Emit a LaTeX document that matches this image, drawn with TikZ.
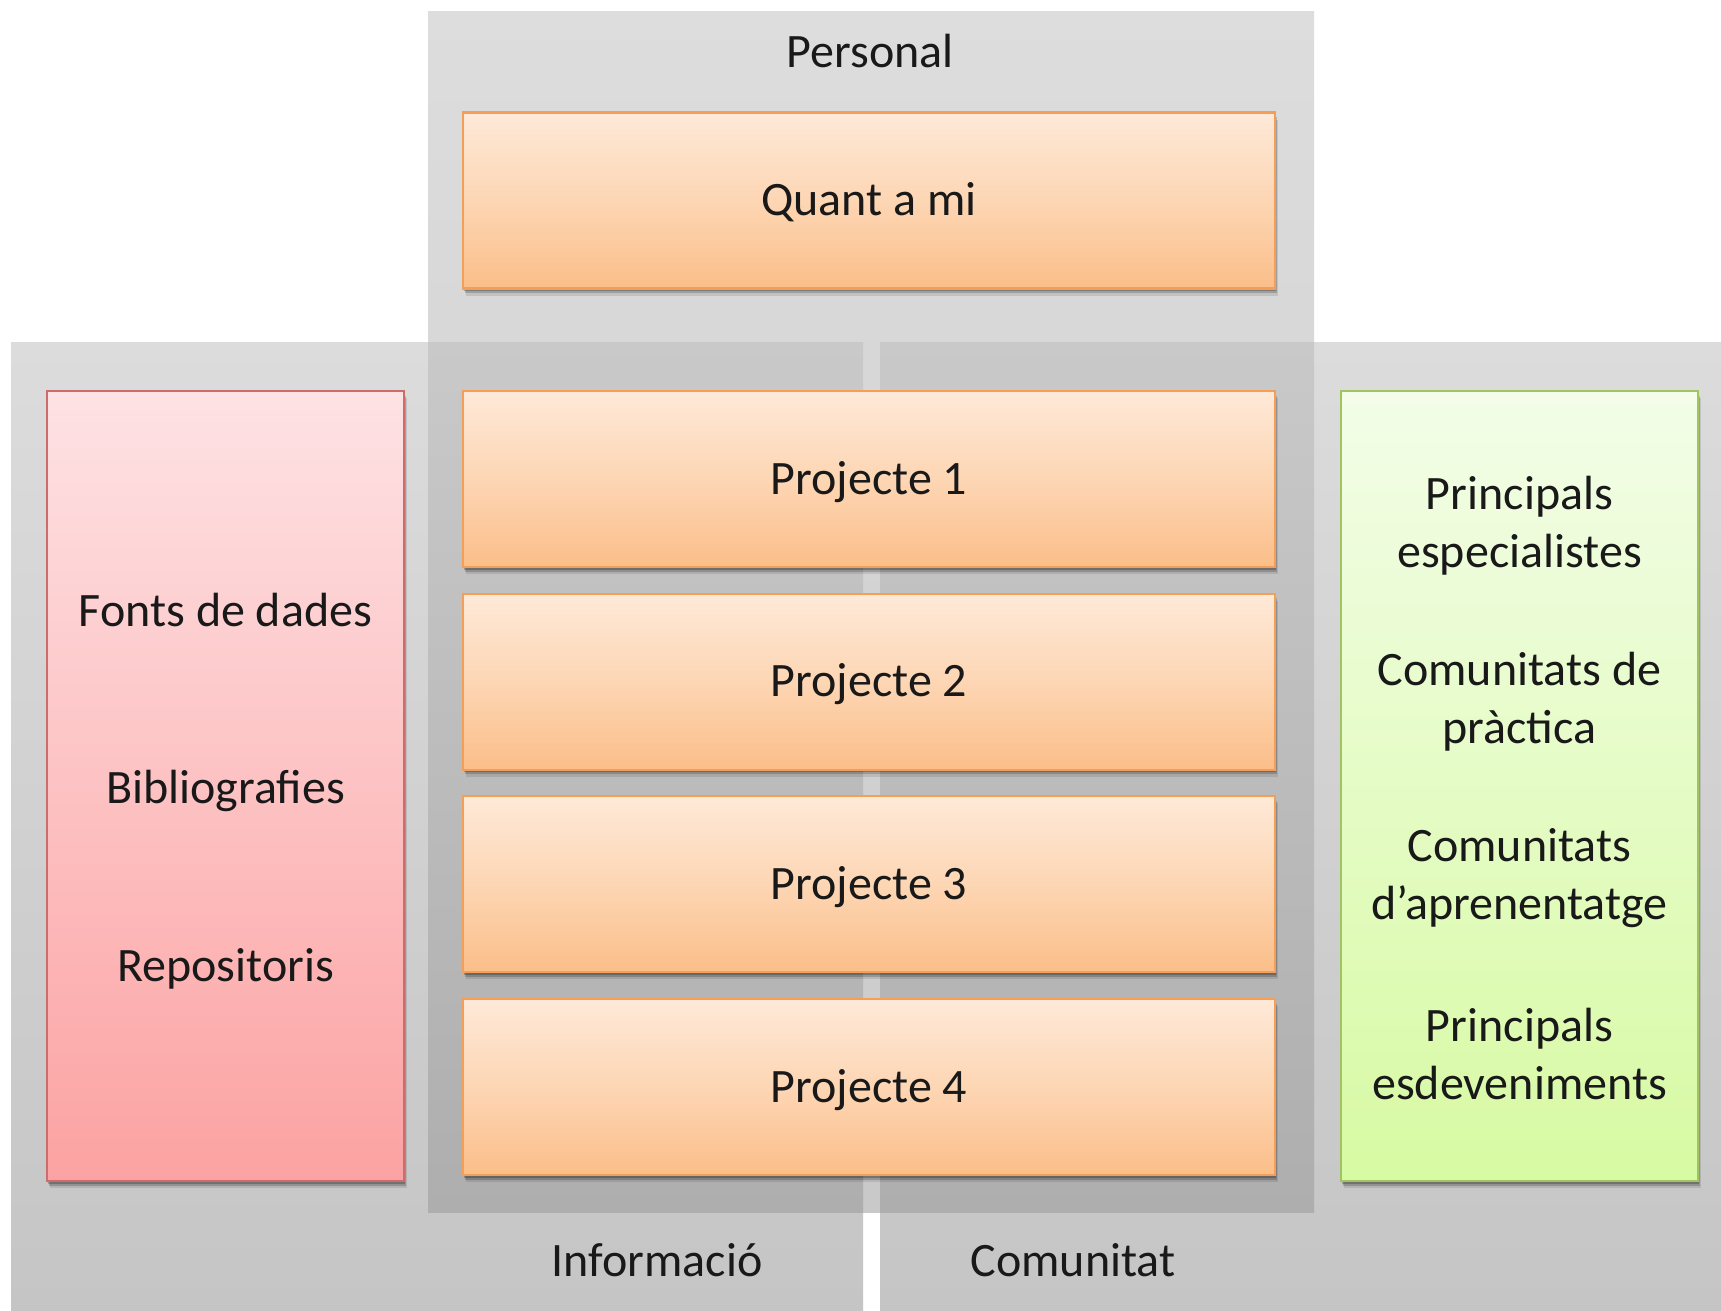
\documentclass[tikz,border=0pt]{standalone}
\usepackage{fontspec}
\setmainfont{Carlito}
\usetikzlibrary{shadows}
\definecolor{orT}{RGB}{254,233,216}
\definecolor{orM}{RGB}{253,214,180}
\definecolor{orBt}{RGB}{251,190,137}
\definecolor{orD}{RGB}{245,158,88}
\definecolor{rdT}{RGB}{254,226,228}
\definecolor{rdBt}{RGB}{252,162,162}
\definecolor{rdD}{RGB}{205,108,108}
\definecolor{grT}{RGB}{243,253,232}
\definecolor{grBt}{RGB}{215,250,163}
\definecolor{grD}{RGB}{160,196,96}
\definecolor{pT}{RGB}{221,221,221}
\definecolor{pB}{RGB}{201,201,201}
\definecolor{iT}{RGB}{220,220,220}
\definecolor{iB}{RGB}{197,197,197}
\definecolor{oT}{RGB}{201,201,201}
\definecolor{oB}{RGB}{174,174,174}
\definecolor{txt}{RGB}{25,25,25}
\begin{document}
\begin{tikzpicture}[x=1pt,y=-1pt,
  every node/.style={font=\fontsize{48}{58}\selectfont, text=txt},
  box/.style={rectangle, line width=2.2pt, inner sep=0pt,
    drop shadow={shadow xshift=2.5pt, shadow yshift=-7pt, opacity=0.10, fill=black},
    drop shadow={shadow xshift=1.5pt, shadow yshift=-4.5pt, opacity=0.18, fill=black},
    drop shadow={shadow xshift=0.8pt, shadow yshift=-2.5pt, opacity=0.22, fill=black}},
  orangebox/.style={box, draw=orD, top color=orT, bottom color=orBt,
    middle color=orM, minimum width=812pt, minimum height=176pt},
  redbox/.style={box, draw=rdD, top color=rdT, bottom color=rdBt,
    minimum width=357pt, minimum height=790pt},
  greenbox/.style={box, draw=grD, top color=grT, bottom color=grBt,
    minimum width=357pt, minimum height=790pt},
  lbl/.style={anchor=base, inner sep=0pt},
  mlbl/.style={align=center, inner sep=0pt}
]
\useasboundingbox (0,0) rectangle (1721,1310);
\fill[white] (0,0) rectangle (1721,1310);
% panels
\shade[top color=pT, bottom color=pB] (428,11) rectangle (1314,1212);
\shade[top color=iT, bottom color=iB] (11,342) rectangle (863,1310);
\shade[top color=iT, bottom color=iB] (880,342) rectangle (1721,1310);
\shade[top color=oT, bottom color=oB] (428,342) rectangle (863,1212);
\shade[top color=oT, bottom color=oB] (880,342) rectangle (1314,1212);
% panel labels
\node[lbl] (personal) at (870,67) {Personal};
\node[lbl] (informacio) at (657,1276) {Informació};
\node[lbl] (comunitat) at (1073,1276) {Comunitat};
% orange boxes
\node[orangebox] (quant) at (869,200.5) {};
\node[lbl] (quantt) at (869,215) {Quant a mi};
\node[orangebox] (p1) at (869,479) {};
\node[lbl] (p1t) at (869,494) {Projecte 1};
\node[orangebox] (p2) at (869,681.7) {};
\node[lbl] (p2t) at (869,696.7) {Projecte 2};
\node[orangebox] (p3) at (869,884.3) {};
\node[lbl] (p3t) at (869,899.3) {Projecte 3};
\node[orangebox] (p4) at (869,1087) {};
\node[lbl] (p4t) at (869,1102) {Projecte 4};
% red box
\node[redbox] (info) at (225.5,786) {};
\node[lbl] (fonts) at (225.5,626) {Fonts de dades};
\node[lbl] (biblio) at (225.5,803) {Bibliografies};
\node[lbl] (repos) at (225.5,981) {Repositoris};
% green box
\node[greenbox] (com) at (1519.5,786) {};
\node[mlbl] (espec) at (1519.5,526) {Principals\\especialistes};
\node[mlbl] (cpract) at (1519.5,702) {Comunitats de\\pràctica};
\node[mlbl] (capren) at (1519.5,878) {Comunitats\\d’aprenentatge};
\node[mlbl] (esdev) at (1519.5,1054) {Principals\\esdeveniments};
\end{tikzpicture}
\end{document}
